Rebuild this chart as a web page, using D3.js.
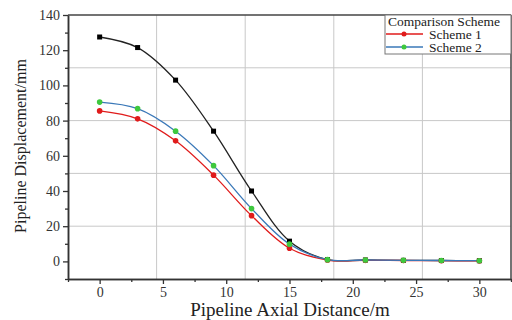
<!DOCTYPE html>
<html><head><meta charset="utf-8">
<script src="https://cdn.jsdelivr.net/npm/d3@7"></script>
<style>body{margin:0;background:#fff}svg{display:block}</style>
</head><body><svg id="c" width="512" height="320"></svg>
<script>
const distances = [0, 3, 6, 9, 12, 15, 18, 21, 24, 27, 30];
const baseline = [127.5, 121.5, 103, 74, 40, 11.5, 1.0, 0.8, 0.6, 0.5, 0.4];
const scheme1 = [85.5, 81, 68.5, 49, 26, 7.5, 0.8, 0.6, 0.5, 0.4, 0.3];
const scheme2 = [90.5, 86.8, 74, 54.4, 30, 9.8, 1.0, 0.8, 0.6, 0.5, 0.4];
const xTicks = [0, 5, 10, 15, 20, 25, 30];
const yTicks = [0, 20, 40, 60, 80, 100, 120, 140];
const legendTitle = "Comparison Scheme";
const legendNames = ["Scheme 1", "Scheme 2"];

const svg = d3.select("#c");
const L = 68, R = 511, T = 15, B = 279;
const x = d3.scaleLinear().domain([-2.5, 32.5]).range([L, R]);
const y = d3.scaleLinear().domain([-10, 140]).range([B, T]);
const serif = "'Liberation Serif', 'Times New Roman', serif";

// grid: 5 equal divisions
const gx = d3.range(1, 5).map(i => -2.5 + i * 7);
const gy = d3.range(1, 5).map(i => -10 + i * 30);
svg.append("g").selectAll("line").data(gx).join("line")
  .attr("x1", d => x(d)).attr("x2", d => x(d)).attr("y1", T).attr("y2", B)
  .attr("stroke", "#c8c8c8").attr("stroke-width", 1);
svg.append("g").selectAll("line").data(gy).join("line")
  .attr("y1", d => y(d)).attr("y2", d => y(d)).attr("x1", L).attr("x2", R)
  .attr("stroke", "#c8c8c8").attr("stroke-width", 1);

// axes
const xAxis = svg.append("g").attr("transform", `translate(0,${B})`)
  .call(d3.axisBottom(x).tickValues(xTicks).tickSize(5).tickPadding(3).tickSizeOuter(0));
const xMinor = svg.append("g").attr("transform", `translate(0,${B})`)
  .call(d3.axisBottom(x).tickValues(d3.range(-2.5, 33, 5)).tickSize(3).tickFormat("").tickSizeOuter(0));
const yAxis = svg.append("g").attr("transform", `translate(${L},0)`)
  .call(d3.axisLeft(y).tickValues(yTicks).tickSize(5).tickPadding(3).tickSizeOuter(0));
const yMinor = svg.append("g").attr("transform", `translate(${L},0)`)
  .call(d3.axisLeft(y).tickValues(d3.range(-10, 141, 20)).tickSize(3).tickFormat("").tickSizeOuter(0));
[xAxis, xMinor, yAxis, yMinor].forEach(g => {
  g.attr("font-family", serif).attr("font-size", 14);
  g.select(".domain").attr("stroke", "#333").attr("stroke-width", 1.5);
  g.selectAll(".tick line").attr("stroke", "#333").attr("stroke-width", 1.3);
  g.selectAll("text").attr("font-family", serif).attr("font-size", 14).attr("fill", "#333");
});
// top & right frame
svg.append("line").attr("x1", L).attr("x2", R).attr("y1", T).attr("y2", T).attr("stroke", "#444").attr("stroke-width", 1.5);
svg.append("line").attr("x1", R).attr("x2", R).attr("y1", T).attr("y2", B).attr("stroke", "#444").attr("stroke-width", 1.5);

// series
const line = d3.line().x((d, i) => x(distances[i])).y(d => y(d)).curve(d3.curveCatmullRom.alpha(0.5));
const series = [
  {v: baseline, line: "#222", mark: "#000", shape: "square"},
  {v: scheme1, line: "#e01b1b", mark: "#e01b1b", shape: "circle"},
  {v: scheme2, line: "#3a78b8", mark: "#3ec83e", shape: "circle"}
];
series.forEach(s => {
  svg.append("path").attr("d", line(s.v)).attr("fill", "none").attr("stroke", s.line).attr("stroke-width", 1.3);
});
series.forEach(s => {
  const g = svg.append("g");
  if (s.shape === "square") {
    g.selectAll("rect").data(s.v).join("rect")
      .attr("x", (d, i) => x(distances[i]) - 2.5).attr("y", d => y(d) - 2.5)
      .attr("width", 5).attr("height", 5).attr("fill", s.mark);
  } else {
    g.selectAll("circle").data(s.v).join("circle")
      .attr("cx", (d, i) => x(distances[i])).attr("cy", d => y(d)).attr("r", 2.8).attr("fill", s.mark);
  }
});

// axis titles
svg.append("text").attr("x", 290).attr("y", 316).attr("text-anchor", "middle")
  .attr("font-family", serif).attr("font-size", 19).attr("fill", "#222").text("Pipeline Axial Distance/m");
svg.append("text").attr("transform", "translate(26,146) rotate(-90)").attr("text-anchor", "middle")
  .attr("font-family", serif).attr("font-size", 16).attr("fill", "#222").text("Pipeline Displacement/mm");

// legend
const lg = svg.append("g");
lg.append("rect").attr("x", 385).attr("y", 15).attr("width", 126).attr("height", 39)
  .attr("fill", "#fff").attr("stroke", "#777").attr("stroke-width", 1);
lg.append("text").attr("x", 388).attr("y", 25.5).attr("font-family", serif).attr("font-size", 13.5)
  .attr("fill", "#222").text(legendTitle);
[series[1], series[2]].forEach((s, i) => {
  const yy = 34 + i * 13;
  lg.append("line").attr("x1", 386).attr("x2", 423).attr("y1", yy).attr("y2", yy).attr("stroke", s.line).attr("stroke-width", 1.5);
  lg.append("circle").attr("cx", 404).attr("cy", yy).attr("r", 2.5).attr("fill", s.mark);
  lg.append("text").attr("x", 429).attr("y", yy + 4.5).attr("font-family", serif).attr("font-size", 13.5)
    .attr("fill", "#222").text(legendNames[i]);
});
</script></body></html>
